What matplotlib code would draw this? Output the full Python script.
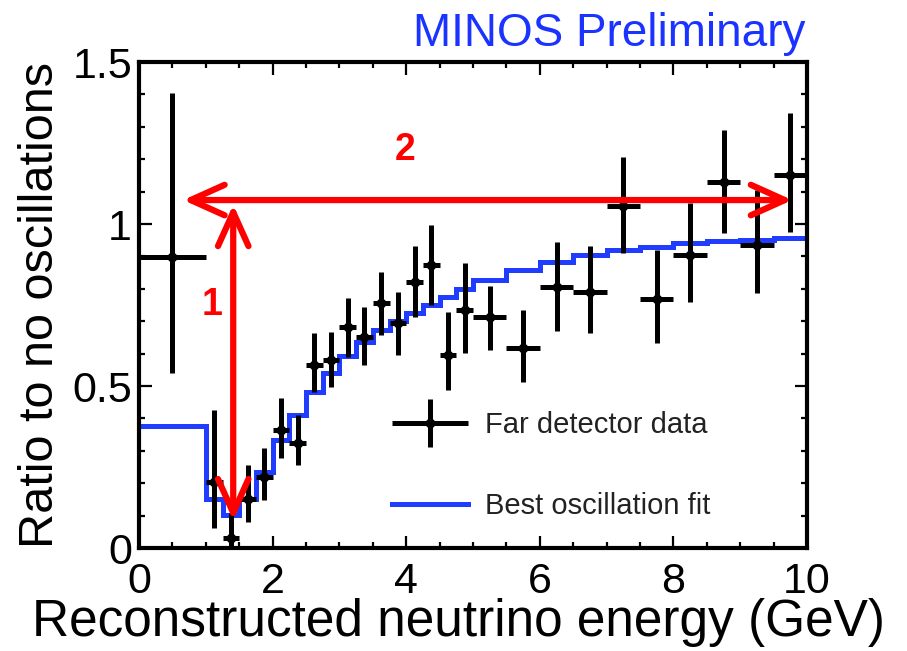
import matplotlib
matplotlib.use("Agg")
import matplotlib.pyplot as plt
import numpy as np
from matplotlib.container import ErrorbarContainer
from matplotlib.legend_handler import HandlerErrorbar
from matplotlib.ticker import MultipleLocator

plt.rcParams['font.family'] = ['Liberation Sans', 'DejaVu Sans']

# bin edges in reconstructed energy (GeV)
bin_edges = [0, 1, 1.25, 1.5, 1.75, 2, 2.25, 2.5, 2.75, 3, 3.25, 3.5, 3.75, 4,
             4.25, 4.5, 4.75, 5, 5.5, 6, 6.5, 7, 7.5, 8, 8.5, 9, 9.5, 10]

# best oscillation fit (ratio per bin)
fit_ratio = [0.377, 0.151, 0.102, 0.151, 0.236, 0.333, 0.41, 0.482, 0.539,
             0.593, 0.637, 0.673, 0.70, 0.725, 0.75, 0.776, 0.80, 0.827,
             0.858, 0.884, 0.904, 0.92, 0.928, 0.94, 0.948, 0.951, 0.958]

# far detector data: ratio and error bar ends
data_ratio = [0.899, 0.205, 0.03, 0.151, 0.22, 0.364, 0.325, 0.565, 0.58,
              0.681, 0.652, 0.755, 0.693, 0.822, 0.873, 0.596, 0.735, 0.714,
              0.617, 0.805, 0.79, 1.057, 0.768, 0.904, 1.13, 0.935, 1.151]
data_low = [0.54, 0.062, 0.0, 0.08, 0.148, 0.278, 0.256, 0.482, 0.498,
            0.59, 0.565, 0.657, 0.596, 0.712, 0.75, 0.488, 0.601, 0.611,
            0.513, 0.67, 0.664, 0.91, 0.634, 0.76, 0.972, 0.787, 0.976]
data_high = [1.404, 0.426, 0.108, 0.256, 0.31, 0.463, 0.41, 0.663, 0.668,
             0.772, 0.744, 0.853, 0.791, 0.932, 0.997, 0.729, 0.88, 0.81,
             0.735, 0.945, 0.933, 1.208, 0.92, 1.065, 1.29, 1.105, 1.344]

# red annotation arrows: (x0, y0, x1, y1) and labels
arrow_1 = (1.41, 0.085, 1.41, 1.06)
arrow_2 = (0.66, 1.074, 9.78, 1.074)
label_1 = (1.09, 0.75, "1")
label_2 = (3.98, 1.228, "2")

edges = np.array(bin_edges)
centers = (edges[:-1] + edges[1:]) / 2
half_w = (edges[1:] - edges[:-1]) / 2
y = np.array(data_ratio)
yerr = [y - np.array(data_low), np.array(data_high) - y]

fig = plt.figure(figsize=(9.07, 6.51), dpi=100)
ax = fig.add_axes([0.1533, 0.1582, 0.7365, 0.7465])

blue = '#1f3cff'
ax.stairs(fit_ratio, bin_edges, baseline=None, color=blue, lw=3.6, zorder=2,
          label='Best oscillation fit')
eb = ax.errorbar(centers, y, xerr=half_w, yerr=yerr, fmt='o', color='black',
                 ms=6, elinewidth=3.6, capsize=0, zorder=3,
                 label='Far detector data')

red = '#ff0000'
for (x0, y0, x1, y1) in [arrow_1, arrow_2]:
    ax.annotate('', xy=(x1, y1), xytext=(x0, y0),
                arrowprops=dict(arrowstyle='<->,head_length=0.4,head_width=0.18',
                                color=red, lw=4.5, mutation_scale=61,
                                shrinkA=0, shrinkB=0, capstyle='round',
                                joinstyle='round'),
                zorder=5)
for (lx, ly, txt) in [label_1, label_2]:
    ax.text(lx, ly, txt, color=red, fontsize=27, fontweight='bold',
            ha='center', va='center', zorder=6)

ax.set_xlim(0, 10)
ax.set_ylim(0, 1.5)
ax.xaxis.set_major_locator(MultipleLocator(2))
ax.xaxis.set_minor_locator(MultipleLocator(0.5))
ax.yaxis.set_major_locator(MultipleLocator(0.5))
ax.yaxis.set_minor_locator(MultipleLocator(0.1))
ax.xaxis.set_major_formatter(plt.FuncFormatter(lambda v, p: f"{v:g}"))
ax.yaxis.set_major_formatter(plt.FuncFormatter(lambda v, p: f"{v:g}"))
ax.tick_params(which='both', direction='in', top=True, right=True, width=1.6)
ax.tick_params(which='major', length=9, labelsize=31)
ax.tick_params(which='minor', length=4.5)
ax.tick_params(axis='x', pad=10)
ax.tick_params(axis='y', pad=5)
for s in ax.spines.values():
    s.set_linewidth(3)

ax.set_xlabel('Reconstructed neutrino energy (GeV)', fontsize=37)
ax.set_ylabel('Ratio to no oscillations', fontsize=35)
ax.xaxis.set_label_coords(0.4775, -0.103)
ax.yaxis.set_label_coords(-0.114, 0.5)

fig.text(0.8876, 0.914, 'MINOS Preliminary', color='#1a33ff', fontsize=33,
         ha='right', va='bottom')

handles, labels = ax.get_legend_handles_labels()
order = [labels.index('Far detector data'), labels.index('Best oscillation fit')]
leg = ax.legend([handles[i] for i in order], [labels[i] for i in order],
                loc='upper left', bbox_to_anchor=(0.339, 0.335), frameon=False,
                fontsize=21, handlelength=2.6, handletextpad=0.6,
                labelspacing=1.8, numpoints=1,
                handler_map={ErrorbarContainer: HandlerErrorbar(xerr_size=1.3, yerr_size=0.83)})
for t in leg.get_texts():
    t.set_color('#222222')

fig.savefig('out.png', dpi=100)
